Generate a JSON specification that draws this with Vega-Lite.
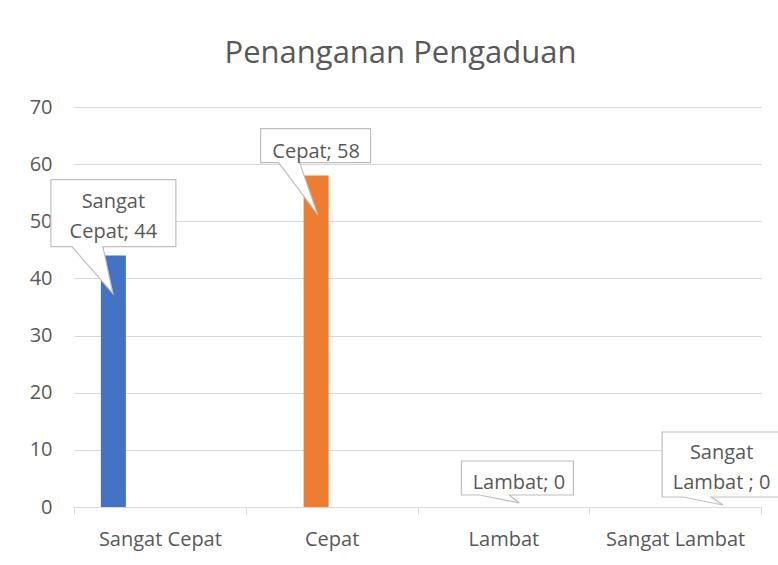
{
  "$schema": "https://vega.github.io/schema/vega-lite/v6.json",
  "width": 687,
  "height": 400,
  "autosize": {"type": "none"},
  "padding": {"left": 74, "top": 107, "right": 17, "bottom": 58},
  "background": "white",
  "title": {
    "text": "Penanganan Pengaduan",
    "fontSize": 31,
    "font": "Open Sans",
    "fontWeight": "normal",
    "color": "#595959",
    "anchor": "middle",
    "dx": -17,
    "offset": 27
  },
  "config": {"view": {"stroke": null}, "font": "Open Sans"},
  "data": {
    "values": [
      {"kategori": "Sangat Cepat", "jumlah": 44, "label": "Sangat\nCepat; 44", "baris": 2},
      {"kategori": "Cepat", "jumlah": 58, "label": "Cepat; 58", "baris": 1},
      {"kategori": "Lambat", "jumlah": 0, "label": "Lambat; 0", "baris": 1},
      {"kategori": "Sangat Lambat", "jumlah": 0, "label": "Sangat\nLambat ; 0", "baris": 2}
    ]
  },
  "encoding": {
    "x": {
      "field": "kategori",
      "type": "nominal",
      "sort": ["Sangat Cepat", "Cepat", "Lambat", "Sangat Lambat"],
      "scale": {"paddingInner": 0, "paddingOuter": 0},
      "axis": {
        "title": null,
        "domain": true,
        "domainColor": "#D9D9D9",
        "domainWidth": 1,
        "ticks": true,
        "tickBand": "extent",
        "tickColor": "#D9D9D9",
        "tickSize": 7,
        "labelColor": "#595959",
        "labelFontSize": 20,
        "labelFont": "Open Sans",
        "labelPadding": 15,
        "labelAngle": 0,
        "grid": false
      }
    },
    "xOffset": {
      "field": "kategori",
      "type": "nominal",
      "sort": ["Sangat Cepat", "Cepat", "Lambat", "Sangat Lambat"],
      "scale": {"paddingInner": 0.1935, "paddingOuter": 0.867}
    },
    "y": {
      "field": "jumlah",
      "type": "quantitative",
      "scale": {"domain": [0, 70]},
      "axis": {
        "title": null,
        "values": [0, 10, 20, 30, 40, 50, 60, 70],
        "domain": false,
        "ticks": false,
        "grid": true,
        "gridColor": "#D9D9D9",
        "gridWidth": 1,
        "labelColor": "#595959",
        "labelFontSize": 20,
        "labelFont": "Open Sans",
        "labelPadding": 22
      }
    }
  },
  "layer": [
    {
      "mark": {"type": "bar"},
      "encoding": {
        "color": {
          "field": "kategori",
          "type": "nominal",
          "scale": {
            "domain": ["Sangat Cepat", "Cepat", "Lambat", "Sangat Lambat"],
            "range": ["#4472C4", "#ED7D31", "#A5A5A5", "#FFC000"]
          },
          "legend": null
        }
      }
    },
    {
      "mark": {
        "type": "point",
        "filled": true,
        "fill": "white",
        "stroke": "#BFBFBF",
        "strokeWidth": 1.2,
        "size": 4,
        "opacity": 1
      },
      "encoding": {
        "shape": {
          "field": "kategori",
          "type": "nominal",
          "scale": {
            "domain": ["Sangat Cepat", "Cepat", "Lambat", "Sangat Lambat"],
            "range": [
              "M-62.5,-76H62.5V-9H-10.5L-0.5,38L-41.5,-9H-62.5Z",
              "M-55.5,-47H54.5V-13H-16.5L1.5,39L-37.5,-13H-55.5Z",
              "M-57.5,-46H54.5V-12H-9.5L0.5,-4L-39.5,-12H-57.5Z",
              "M-59.5,-75H65.5V-10H-10.5L1.5,-2L-38.5,-10H-59.5Z"
            ]
          },
          "legend": null
        }
      }
    },
    {
      "transform": [{"filter": "datum.baris == 1"}],
      "mark": {
        "type": "text",
        "baseline": "bottom",
        "align": "center",
        "dy": -14,
        "fontSize": 20,
        "font": "Open Sans",
        "color": "#595959"
      },
      "encoding": {"text": {"field": "label"}}
    },
    {
      "transform": [{"filter": "datum.baris == 2"}],
      "mark": {
        "type": "text",
        "baseline": "bottom",
        "align": "center",
        "dy": -44,
        "fontSize": 20,
        "font": "Open Sans",
        "lineBreak": "\n",
        "lineHeight": 30,
        "color": "#595959"
      },
      "encoding": {"text": {"field": "label"}}
    }
  ]
}
